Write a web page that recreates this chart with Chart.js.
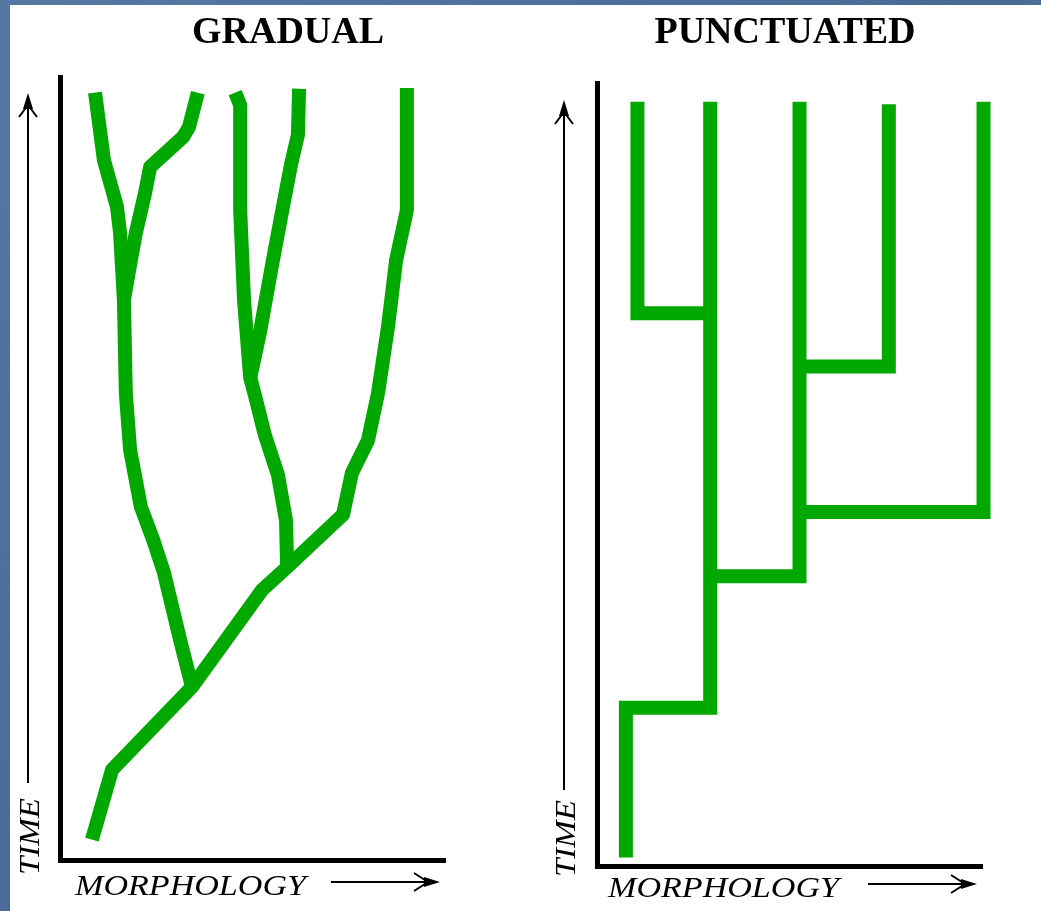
<!DOCTYPE html>
<html>
<head>
<meta charset="utf-8">
<title>Gradual vs punctuated</title>
<script src="https://cdn.jsdelivr.net/npm/chart.js@4.4.1/dist/chart.umd.min.js"></script>
<style>
    html, body { margin: 0; padding: 0; }
    body {
        width: 1041px;
        height: 911px;
        overflow: hidden;
        background: linear-gradient(135deg, #5577a4 0%, #4a6a98 50%, #5a7ca8 100%);
        position: relative;
    }
    .panel {
        position: absolute;
        left: 10px;
        top: 5px;
        right: 0;
        bottom: 0;
        background: #fff;
    }
    .chart-box {
        position: absolute;
        left: 0;
        top: 0;
        width: 1041px;
        height: 911px;
    }
</style>
</head>
<body>
<div class="panel"></div>
<div class="chart-box"><canvas id="gradualChart"></canvas></div>
<div class="chart-box"><canvas id="punctuatedChart"></canvas></div>
<script>
// morphology (x) / time (y) points, 0-100 on both axes
const gradualStem = [[8.3, 2.6], [13.5, 11.5], [34.3, 22.1], [52.5, 34.5], [59.0, 37.4], [73.5, 44.1],
    [75.8, 49.4], [80.0, 53.6], [82.6, 59.6], [85.2, 68.1], [87.3, 76.6], [90.1, 83.0], [90.1, 98.6]];
const gradualLeft = [[34.3, 22.1], [31.2, 28.1], [27.0, 36.7], [24.2, 40.9], [21.0, 45.1], [18.2, 52.4],
    [17.1, 59.6], [16.6, 71.5], [15.6, 80.1], [14.8, 83.4], [11.4, 89.4], [9.1, 98.0]];
const gradualLeftUpper = [[16.6, 71.5], [18.4, 76.6], [19.7, 80.1], [22.1, 85.2], [23.4, 88.5],
    [31.9, 92.3], [33.5, 93.6], [35.8, 98.0]];
const gradualMiddle = [[59.0, 37.4], [58.7, 43.4], [56.6, 49.2], [53.2, 54.3], [50.6, 59.4], [49.4, 61.6],
    [47.8, 71.5], [46.8, 83.0], [46.8, 96.4], [45.5, 98.0]];
const gradualMiddleUpper = [[49.4, 61.6], [51.9, 67.3], [55.3, 76.6], [57.9, 83.4], [60.0, 88.8],
    [61.8, 92.6], [62.1, 98.5]];

const punctA = [[10.5, 97.6], [10.5, 70.6], [29.4, 70.6]];
const punctB = [[29.4, 97.6], [29.4, 20.2], [7.5, 20.2], [7.5, 1.1]];
const punctC = [[52.6, 97.6], [52.6, 37.0], [29.4, 37.0]];
const punctD = [[75.8, 97.3], [75.8, 63.8], [52.6, 63.8]];
const punctE = [[100.4, 97.6], [100.4, 45.2], [52.6, 45.2]];

const GREEN = '#00a800';

function lineage(points, join) {
    return {
        data: points.map(p => ({ x: p[0], y: p[1] })),
        showLine: true,
        borderColor: GREEN,
        backgroundColor: GREEN,
        borderWidth: 14,
        borderJoinStyle: join,
        borderCapStyle: 'butt',
        pointRadius: 0,
        pointHoverRadius: 0,
        tension: 0,
        clip: false
    };
}

// titles, TIME arrow and MORPHOLOGY arrow
const labelsPlugin = {
    id: 'panelLabels',
    afterDraw(chart, args, opts) {
        const ctx = chart.ctx;
        ctx.save();
        ctx.fillStyle = '#000';
        ctx.strokeStyle = '#000';

        // title
        ctx.font = "bold 38px 'Liberation Serif', serif";
        ctx.textAlign = 'center';
        ctx.textBaseline = 'alphabetic';
        ctx.fillText(opts.title, opts.titleX, 43);

        // TIME, rotated, reading upward
        ctx.font = "italic 30px 'Liberation Serif', serif";
        ctx.textAlign = 'left';
        ctx.save();
        ctx.translate(opts.timeX + 11, opts.timeY);
        ctx.rotate(-Math.PI / 2);
        const tw = ctx.measureText('TIME').width;
        ctx.scale(77 / tw, 1);
        ctx.fillStyle = '#000';
        ctx.fillText('TIME', 0, 0);
        ctx.restore();

        ctx.lineWidth = 2;
        ctx.beginPath();
        ctx.moveTo(opts.timeX, opts.arrowBottom);
        ctx.lineTo(opts.timeX, opts.arrowTop + 6);
        ctx.stroke();
        ctx.beginPath();
        ctx.moveTo(opts.timeX, opts.arrowTop);
        ctx.lineTo(opts.timeX - 5, opts.arrowTop + 16);
        ctx.lineTo(opts.timeX + 5, opts.arrowTop + 16);
        ctx.closePath();
        ctx.fill();
        ctx.beginPath();
        ctx.moveTo(opts.timeX - 9, opts.arrowTop + 24);
        ctx.lineTo(opts.timeX, opts.arrowTop + 12);
        ctx.lineTo(opts.timeX + 9, opts.arrowTop + 24);
        ctx.stroke();

        // MORPHOLOGY
        ctx.save();
        ctx.translate(opts.morphX, opts.morphY);
        const mw = ctx.measureText('MORPHOLOGY').width;
        ctx.scale(231 / mw, 1);
        ctx.fillStyle = '#000';
        ctx.fillText('MORPHOLOGY', 0, 0);
        ctx.restore();

        const ay = opts.morphY - 13;
        ctx.beginPath();
        ctx.moveTo(opts.morphArrowX0, ay);
        ctx.lineTo(opts.morphArrowX1 - 6, ay);
        ctx.stroke();
        ctx.beginPath();
        ctx.moveTo(opts.morphArrowX1, ay);
        ctx.lineTo(opts.morphArrowX1 - 16, ay - 5);
        ctx.lineTo(opts.morphArrowX1 - 16, ay + 5);
        ctx.closePath();
        ctx.fill();
        ctx.beginPath();
        ctx.moveTo(opts.morphArrowX1 - 26, ay - 9);
        ctx.lineTo(opts.morphArrowX1 - 12, ay);
        ctx.lineTo(opts.morphArrowX1 - 26, ay + 9);
        ctx.stroke();

        ctx.restore();
    }
};

function axes() {
    const axis = {
        type: 'linear',
        min: 0,
        max: 100,
        grid: { display: false, drawTicks: false },
        ticks: { display: false },
        border: { display: true, color: '#000', width: 5 }
    };
    return { x: { ...axis, position: 'bottom' }, y: { ...axis, position: 'left' } };
}

function baseOptions(padding, labels) {
    return {
        responsive: true,
        maintainAspectRatio: false,
        animation: false,
        events: [],
        layout: { padding: padding },
        scales: axes(),
        plugins: {
            legend: { display: false },
            tooltip: { enabled: false },
            panelLabels: labels
        }
    };
}

const gradualCtx = document.getElementById('gradualChart');
if (gradualCtx) {
    new Chart(gradualCtx, {
        type: 'scatter',
        data: {
            datasets: [gradualStem, gradualLeft, gradualLeftUpper, gradualMiddle, gradualMiddleUpper]
                .map(p => lineage(p, 'round'))
        },
        options: baseOptions({ left: 60, right: 596, top: 77, bottom: 51 }, {
            title: 'GRADUAL', titleX: 288,
            timeX: 28, timeY: 875, arrowTop: 93, arrowBottom: 783,
            morphX: 75, morphY: 895, morphArrowX0: 331, morphArrowX1: 440
        }),
        plugins: [labelsPlugin]
    });
}

const punctuatedCtx = document.getElementById('punctuatedChart');
if (punctuatedCtx) {
    new Chart(punctuatedCtx, {
        type: 'scatter',
        data: {
            datasets: [punctA, punctB, punctC, punctD, punctE].map(p => lineage(p, 'miter'))
        },
        options: baseOptions({ left: 597, right: 59, top: 83, bottom: 45 }, {
            title: 'PUNCTUATED', titleX: 785,
            timeX: 564, timeY: 877, arrowTop: 100, arrowBottom: 790,
            morphX: 608, morphY: 897, morphArrowX0: 868, morphArrowX1: 977
        }),
        plugins: [labelsPlugin]
    });
}
</script>
</body>
</html>
